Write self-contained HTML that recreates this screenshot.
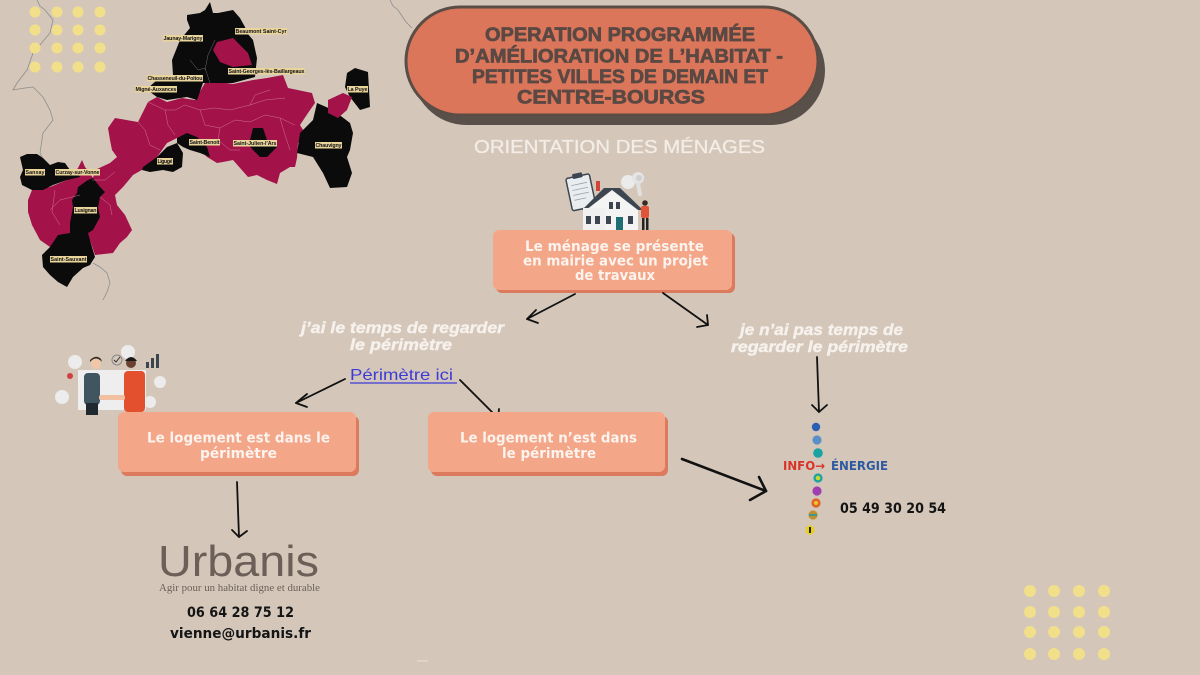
<!DOCTYPE html>
<html>
<head>
<meta charset="utf-8">
<style>
html,body{margin:0;padding:0;background:#d4c7ba;}
svg{display:block;}
</style>
</head>
<body>
<svg width="1200" height="675" viewBox="0 0 1200 675" xmlns="http://www.w3.org/2000/svg">
<rect width="1200" height="675" fill="#d4c7ba"/>

<!-- department boundary lines -->
<g fill="none" stroke="#8d8d8d" stroke-width="0.8">
<polyline points="37,0 40,6 45,10 53,20 50,33 40,45 33,53 27,70 17,83 13,90 25,88 33,87 43,97 50,110 53,120 43,133 40,153 42,157"/>
<polyline points="93,263 100,267 107,273 110,283 107,292 103,300"/>
<polyline points="390,0 393,6 398,10 402,16 406,22 412,28"/>
</g>

<!-- yellow dots top-left -->
<g fill="#f2df8a">
<circle cx="35" cy="12" r="5.5"/><circle cx="57" cy="12" r="5.5"/><circle cx="78" cy="12" r="5.5"/><circle cx="100" cy="12" r="5.5"/>
<circle cx="35" cy="30" r="5.5"/><circle cx="57" cy="30" r="5.5"/><circle cx="78" cy="30" r="5.5"/><circle cx="100" cy="30" r="5.5"/>
<circle cx="35" cy="48" r="5.5"/><circle cx="57" cy="48" r="5.5"/><circle cx="78" cy="48" r="5.5"/><circle cx="100" cy="48" r="5.5"/>
<circle cx="35" cy="67" r="5.5"/><circle cx="57" cy="67" r="5.5"/><circle cx="78" cy="67" r="5.5"/><circle cx="100" cy="67" r="5.5"/>
</g>
<!-- yellow dots bottom-right -->
<g fill="#f2df8a">
<circle cx="1030" cy="591" r="6"/><circle cx="1054" cy="591" r="6"/><circle cx="1079" cy="591" r="6"/><circle cx="1104" cy="591" r="6"/>
<circle cx="1030" cy="612" r="6"/><circle cx="1054" cy="612" r="6"/><circle cx="1079" cy="612" r="6"/><circle cx="1104" cy="612" r="6"/>
<circle cx="1030" cy="632" r="6"/><circle cx="1054" cy="632" r="6"/><circle cx="1079" cy="632" r="6"/><circle cx="1104" cy="632" r="6"/>
<circle cx="1030" cy="654" r="6"/><circle cx="1054" cy="654" r="6"/><circle cx="1079" cy="654" r="6"/><circle cx="1104" cy="654" r="6"/>
</g>

<!-- MAP -->
<g stroke-linejoin="round">
<polygon fill="#a3134a" points="28,200 32,190 50,187 67,180 78,168 82,160 85,167 90,173 93,178 95,170 110,163 117,157 112,150 110,140 108,128 115,118 138,122 148,102 157,97 167,102 182,98 195,100 202,88 205,83 220,82 233,84 253,80 267,78 283,75 288,88 312,93 315,103 308,113 300,125 305,133 298,143 297,158 295,167 290,167 280,173 277,184 267,180 257,175 248,177 233,160 223,162 217,163 207,157 200,150 192,147 182,140 177,138 167,143 157,157 147,167 133,175 123,187 115,195 117,205 125,215 132,230 127,237 120,243 113,253 95,255 90,240 58,248 50,247 40,240 32,225 28,212"/>
<polygon fill="#0b0b0b" points="187,15 200,13 205,10 210,2 213,13 218,13 233,10 240,18 245,27 247,33 253,40 257,58 255,77 233,83 203,83 197,100 187,97 167,100 157,97 150,92 148,88 157,80 173,75 172,60 180,40 190,28 187,20"/>
<polygon fill="#a3134a" points="217,42 233,38 248,53 252,65 233,67 220,62 213,50"/>
<polygon fill="#0b0b0b" points="20,157 27,154 37,154 43,158 50,165 58,162 65,163 70,170 77,173 80,177 67,180 53,185 43,190 32,190 22,185 20,177 23,170"/>
<polygon fill="#0b0b0b" points="78,187 88,180 93,178 100,187 105,192 100,197 98,208 100,217 93,230 88,233 70,233 70,223 73,207 72,200 77,193"/>
<polygon fill="#0b0b0b" points="58,235 70,233 88,233 92,247 95,257 90,265 83,268 73,277 67,287 58,282 50,275 43,267 42,255 50,247"/>
<polygon fill="#0b0b0b" points="143,167 157,157 167,147 177,143 183,153 182,167 173,172 163,170 150,172 142,170"/>
<polygon fill="#0b0b0b" points="177,138 187,133 197,137 207,147 210,157 200,153 190,150 183,147 177,143"/>
<polygon fill="#0b0b0b" points="250,140 253,128 263,128 267,140 277,147 267,157 260,157 253,150 247,143"/>
<polygon fill="#0b0b0b" points="317,103 333,110 350,123 353,133 350,150 347,157 352,173 347,187 330,188 323,173 313,157 297,153 300,133 313,120"/>
<polygon fill="#0b0b0b" points="347,73 355,68 368,72 370,107 360,110 350,97 345,87"/>
<polygon fill="#a3134a" points="328,100 343,93 352,97 347,110 338,118 328,113"/>
</g>
<g fill="none" stroke="#d88aa6" stroke-width="0.5" opacity="0.8">
<polyline points="138,122 145,130 150,145 160,150"/>
<polyline points="148,102 165,110 175,110 185,105 200,110 215,108 230,110 250,105 265,100 285,98"/>
<polyline points="165,110 168,125 175,135"/>
<polyline points="200,110 205,125 220,128 235,120 250,122 265,115 280,118 295,125"/>
<polyline points="250,105 255,95 270,90"/>
<polyline points="220,128 218,140 230,150 240,150"/>
<polyline points="280,118 285,135 290,150"/>
<polyline points="50,210 60,200 80,195"/>
<polyline points="55,190 52,212 60,225"/>
<polyline points="100,197 110,205 112,215"/>
<polyline points="92,180 105,180 115,172"/>
</g>
<g fill="none" stroke="#9a9a9a" stroke-width="0.5" opacity="0.7">
<polyline points="190,60 198,70 205,68 210,83"/>
<polyline points="215,40 208,55 205,70"/>
</g>

<!-- map labels -->
<g font-family="'Liberation Sans', sans-serif" font-weight="bold" font-size="5.3" fill="#111">
<rect x="163" y="35" width="40" height="6.5" fill="#e9d49c"/><text x="163.5" y="40.2" textLength="39">Jaunay-Marigny</text>
<rect x="235" y="28" width="52" height="6.5" fill="#e9d49c"/><text x="235.5" y="33.2" textLength="51">Beaumont Saint-Cyr</text>
<rect x="228" y="68" width="77" height="6.5" fill="#e9d49c"/><text x="228.5" y="73.2" textLength="76">Saint-Georges-lès-Baillargeaux</text>
<rect x="147" y="75" width="56" height="6.5" fill="#e9d49c"/><text x="147.5" y="80.2" textLength="55">Chasseneuil-du-Poitou</text>
<rect x="135" y="86" width="42" height="6.5" fill="#e9d49c"/><text x="135.5" y="91.2" textLength="41">Migné-Auxances</text>
<rect x="347" y="86" width="21" height="6.5" fill="#e9d49c"/><text x="347.5" y="91.2" textLength="20">La Puye</text>
<rect x="189" y="139" width="31" height="6.5" fill="#e9d49c"/><text x="189.5" y="144.2" textLength="30">Saint-Benoit</text>
<rect x="233" y="140" width="44" height="6.5" fill="#e9d49c"/><text x="233.5" y="145.2" textLength="43">Saint-Julien-l'Ars</text>
<rect x="315" y="142" width="27" height="6.5" fill="#e9d49c"/><text x="315.5" y="147.2" textLength="26">Chauvigny</text>
<rect x="157" y="158" width="16" height="6.5" fill="#e9d49c"/><text x="157.5" y="163.2" textLength="15">Ligugé</text>
<rect x="25" y="169" width="20" height="6.5" fill="#e9d49c"/><text x="25.5" y="174.2" textLength="19">Sanxay</text>
<rect x="55" y="169" width="45" height="6.5" fill="#e9d49c"/><text x="55.5" y="174.2" textLength="44">Curzay-sur-Vonne</text>
<rect x="74" y="207" width="23" height="6.5" fill="#e9d49c"/><text x="74.5" y="212.2" textLength="22">Lusignan</text>
<rect x="50" y="256" width="37" height="6.5" fill="#e9d49c"/><text x="50.5" y="261.2" textLength="36">Saint-Sauvant</text>
</g>

<!-- TITLE PILL -->
<rect x="412" y="16" width="413" height="109" rx="54.5" fill="#5a504a"/>
<rect x="406" y="7" width="412" height="108" rx="54" fill="#dc765a" stroke="#5a4d46" stroke-width="3"/>
<g font-family="'Liberation Sans', sans-serif" font-weight="bold" font-size="19" fill="#5a4843" stroke="#5a4843" stroke-width="0.7">
<text x="485" y="41" textLength="270" lengthAdjust="spacingAndGlyphs">OPERATION PROGRAMMÉE</text>
<text x="455" y="62.5" textLength="328" lengthAdjust="spacingAndGlyphs">D’AMÉLIORATION DE L’HABITAT -</text>
<text x="472" y="83" textLength="296" lengthAdjust="spacingAndGlyphs">PETITES VILLES DE DEMAIN ET</text>
<text x="517" y="103.5" textLength="188" lengthAdjust="spacingAndGlyphs">CENTRE-BOURGS</text>
</g>
<text x="474" y="153" textLength="291" lengthAdjust="spacingAndGlyphs" font-family="'Liberation Sans', sans-serif" font-size="18.5" fill="#f4ede6" stroke="#f4ede6" stroke-width="0.3">ORIENTATION DES MÉNAGES</text>

<!-- HOUSE ICON -->
<g>
<g transform="rotate(-12 580 193)">
<rect x="569" y="176" width="24" height="33" rx="2" fill="#e9edf0" stroke="#3d4650" stroke-width="1.5"/>
<rect x="576" y="173" width="10" height="5" rx="1" fill="#3d4650"/>
<line x1="573" y1="184" x2="589" y2="184" stroke="#9aa3aa" stroke-width="0.8"/>
<line x1="573" y1="189" x2="589" y2="189" stroke="#9aa3aa" stroke-width="0.8"/>
<line x1="573" y1="194" x2="589" y2="194" stroke="#9aa3aa" stroke-width="0.8"/>
<line x1="573" y1="199" x2="585" y2="199" stroke="#9aa3aa" stroke-width="0.8"/>
</g>
<circle cx="628" cy="182" r="7" fill="#ebebeb"/>
<circle cx="638" cy="178" r="6" fill="#e4e4e4"/>
<circle cx="639" cy="178" r="3" fill="#cfcfcf"/>
<rect x="637" y="182" width="4" height="14" fill="#e0e0e0" transform="rotate(-10 639 189)"/>
<rect x="596" y="181" width="4" height="10" fill="#d0453a"/>
<polygon points="582,210 604,188 620,188 643,210" fill="#3d4650"/>
<polygon points="586,210 612,190 638,210 638,232 586,232" fill="#f4f4f4"/>
<rect x="583" y="208" width="22" height="24" fill="#f0f0f0"/>
<rect x="586" y="216" width="5" height="8" fill="#3d4650"/>
<rect x="595" y="216" width="5" height="8" fill="#3d4650"/>
<rect x="609" y="202" width="4" height="7" fill="#3d4650"/>
<rect x="616" y="202" width="4" height="7" fill="#3d4650"/>
<rect x="606" y="216" width="5" height="8" fill="#3d4650"/>
<rect x="628" y="216" width="5" height="8" fill="#3d4650"/>
<rect x="616" y="217" width="7" height="14" fill="#1f6f73"/>
<circle cx="645" cy="203" r="2.8" fill="#3a2a25"/>
<rect x="641" y="206" width="8" height="12" rx="2" fill="#e0553a"/>
<rect x="642" y="218" width="2.5" height="14" fill="#222"/>
<rect x="646" y="218" width="2.5" height="14" fill="#222"/>
</g>

<!-- BOX 1 -->
<rect x="496" y="233" width="239" height="60" rx="6" fill="#dc7a5e"/>
<rect x="493" y="230" width="239" height="60" rx="6" fill="#f4a688"/>
<g font-family="'DejaVu Sans', sans-serif" font-weight="bold" font-size="14" fill="#fbf3ee">
<text x="525" y="251" textLength="179" lengthAdjust="spacingAndGlyphs">Le ménage se présente</text>
<text x="523" y="265.5" textLength="185" lengthAdjust="spacingAndGlyphs">en mairie avec un projet</text>
<text x="575" y="280" textLength="80" lengthAdjust="spacingAndGlyphs">de travaux</text>
</g>

<!-- ARROWS -->
<g fill="none" stroke="#111" stroke-width="1.8" stroke-linecap="round" stroke-linejoin="round">
<line x1="575" y1="294" x2="527" y2="319"/>
<polyline points="536,310 527,319 538,323"/>
<line x1="663" y1="293" x2="708" y2="325"/>
<polyline points="707,315 708,325 697,327"/>
<line x1="345" y1="379" x2="296" y2="403"/>
<polyline points="307,394 296,403 307,407"/>
<line x1="460" y1="380" x2="498" y2="418"/>
<polyline points="489,417 498,418 499,409"/>
<line x1="817" y1="357" x2="819" y2="412"/>
<polyline points="812,405 819,412 827,405"/>
<line x1="237" y1="482" x2="239" y2="537"/>
<polyline points="232,530 239,537 247,531"/>
</g>
<g fill="none" stroke="#111" stroke-width="2.6" stroke-linecap="round" stroke-linejoin="round">
<line x1="682" y1="459" x2="766" y2="491"/>
<polyline points="759,477 766,491 750,500"/>
</g>

<!-- italic labels -->
<g font-family="'Liberation Sans', sans-serif" font-weight="bold" font-style="italic" font-size="15.5" fill="#f6f1ec" stroke="#f6f1ec" stroke-width="0.4">
<text x="301" y="333" textLength="203" lengthAdjust="spacingAndGlyphs">j’ai le temps de regarder</text>
<text x="350" y="350" textLength="102" lengthAdjust="spacingAndGlyphs">le périmètre</text>
<text x="740" y="335" textLength="163" lengthAdjust="spacingAndGlyphs">je n’ai pas temps de</text>
<text x="731" y="352" textLength="177" lengthAdjust="spacingAndGlyphs">regarder le périmètre</text>
</g>

<!-- link -->
<text x="350" y="380" textLength="103" lengthAdjust="spacingAndGlyphs" font-family="'Liberation Sans', sans-serif" font-size="16" fill="#3b3bd6">Périmètre ici</text>
<line x1="350" y1="383" x2="457" y2="383" stroke="#3b3bd6" stroke-width="1.2"/>

<!-- handshake icon -->
<g>
<circle cx="75" cy="362" r="7" fill="#ececec"/>
<circle cx="128" cy="352" r="7" fill="#ececec"/>
<circle cx="62" cy="397" r="7" fill="#ececec"/>
<circle cx="160" cy="382" r="6" fill="#ececec"/>
<circle cx="150" cy="402" r="6" fill="#ececec"/>
<rect x="78" y="370" width="68" height="40" fill="#eeeeee"/>
<circle cx="117" cy="360" r="5" fill="none" stroke="#888" stroke-width="1"/>
<polyline points="114,360 116,362 120,357" fill="none" stroke="#333" stroke-width="1"/>
<rect x="146" y="362" width="3" height="6" fill="#3a4550"/>
<rect x="151" y="358" width="3" height="10" fill="#3a4550"/>
<rect x="156" y="354" width="3" height="14" fill="#3a4550"/>
<circle cx="70" cy="376" r="3" fill="#d04040"/>
<circle cx="96" cy="364" r="5" fill="#f0c8a8"/>
<path d="M90,362 Q96,355 102,362 L101,359 Q96,354 90,360 Z" fill="#3a2a20"/>
<rect x="84" y="373" width="16" height="32" rx="4" fill="#3f5560"/>
<rect x="86" y="403" width="12" height="12" fill="#1f2a30"/>
<circle cx="131" cy="363" r="5" fill="#6a4030"/>
<path d="M125,361 Q131,353 137,361 Z" fill="#1a1a1a"/>
<rect x="124" y="371" width="21" height="41" rx="4" fill="#e2502e"/>
<rect x="99" y="395" width="26" height="5" rx="2" fill="#f0c0a0"/>
</g>

<!-- BOX 2 -->
<rect x="121" y="416" width="238" height="60" rx="6" fill="#dc7a5e"/>
<rect x="118" y="412" width="238" height="60" rx="6" fill="#f4a688"/>
<g font-family="'DejaVu Sans', sans-serif" font-weight="bold" font-size="14" fill="#fbf3ee">
<text x="147" y="442.5" textLength="183" lengthAdjust="spacingAndGlyphs">Le logement est dans le</text>
<text x="200" y="458" textLength="77" lengthAdjust="spacingAndGlyphs">périmètre</text>
</g>

<!-- BOX 3 -->
<rect x="431" y="416" width="237" height="60" rx="6" fill="#dc7a5e"/>
<rect x="428" y="412" width="237" height="60" rx="6" fill="#f4a688"/>
<g font-family="'DejaVu Sans', sans-serif" font-weight="bold" font-size="14" fill="#fbf3ee">
<text x="460" y="442.5" textLength="177" lengthAdjust="spacingAndGlyphs">Le logement n’est dans</text>
<text x="502" y="458" textLength="94" lengthAdjust="spacingAndGlyphs">le périmètre</text>
</g>

<!-- URBANIS -->
<text x="158" y="576" textLength="161" lengthAdjust="spacingAndGlyphs" font-family="'Liberation Sans', sans-serif" font-size="44" fill="#6b5f58">Urbanis</text>
<text x="159" y="591" textLength="161" lengthAdjust="spacingAndGlyphs" font-family="'Liberation Serif', serif" font-size="10" fill="#6b5f58">Agir pour un habitat digne et durable</text>
<g font-family="'DejaVu Sans', sans-serif" font-weight="bold" font-size="14" fill="#141414">
<text x="187" y="617" textLength="107" lengthAdjust="spacingAndGlyphs">06 64 28 75 12</text>
<text x="170" y="638" textLength="141" lengthAdjust="spacingAndGlyphs">vienne@urbanis.fr</text>
</g>

<!-- INFO ENERGIE -->
<g>
<circle cx="816" cy="427" r="4.2" fill="#2a5fb0"/>
<circle cx="817" cy="440" r="4.6" fill="#5b8fc8"/>
<circle cx="818" cy="453" r="4.8" fill="#1aa3a0"/>
<circle cx="818" cy="478" r="4.6" fill="#1aa3a0"/><circle cx="818" cy="478" r="2.3" fill="#c8d830"/>
<circle cx="817" cy="491" r="4.6" fill="#a040b0"/>
<circle cx="816" cy="503" r="4.6" fill="#e06020"/><circle cx="816" cy="503" r="2.2" fill="#f0c030"/>
<circle cx="813" cy="515" r="4.6" fill="#c09030"/><rect x="809" y="514" width="8" height="2" fill="#3a9a90"/>
<circle cx="810" cy="530" r="4.6" fill="#e8d020"/><rect x="809" y="527" width="2" height="6" fill="#222"/>
</g>
<g font-family="'DejaVu Sans Condensed', 'DejaVu Sans', sans-serif" font-weight="bold" font-size="12.5">
<text x="783" y="470" textLength="42" lengthAdjust="spacingAndGlyphs" fill="#d8352a">INFO→</text>
<text x="831" y="470" textLength="57" lengthAdjust="spacingAndGlyphs" fill="#2d5aa0">ÉNERGIE</text>
</g>
<text x="840" y="513" textLength="106" lengthAdjust="spacingAndGlyphs" font-family="'DejaVu Sans', sans-serif" font-weight="bold" font-size="14" fill="#141414">05 49 30 20 54</text>

<line x1="417" y1="661" x2="428" y2="661" stroke="#e8e0d8" stroke-width="1"/>
</svg>
</body>
</html>
